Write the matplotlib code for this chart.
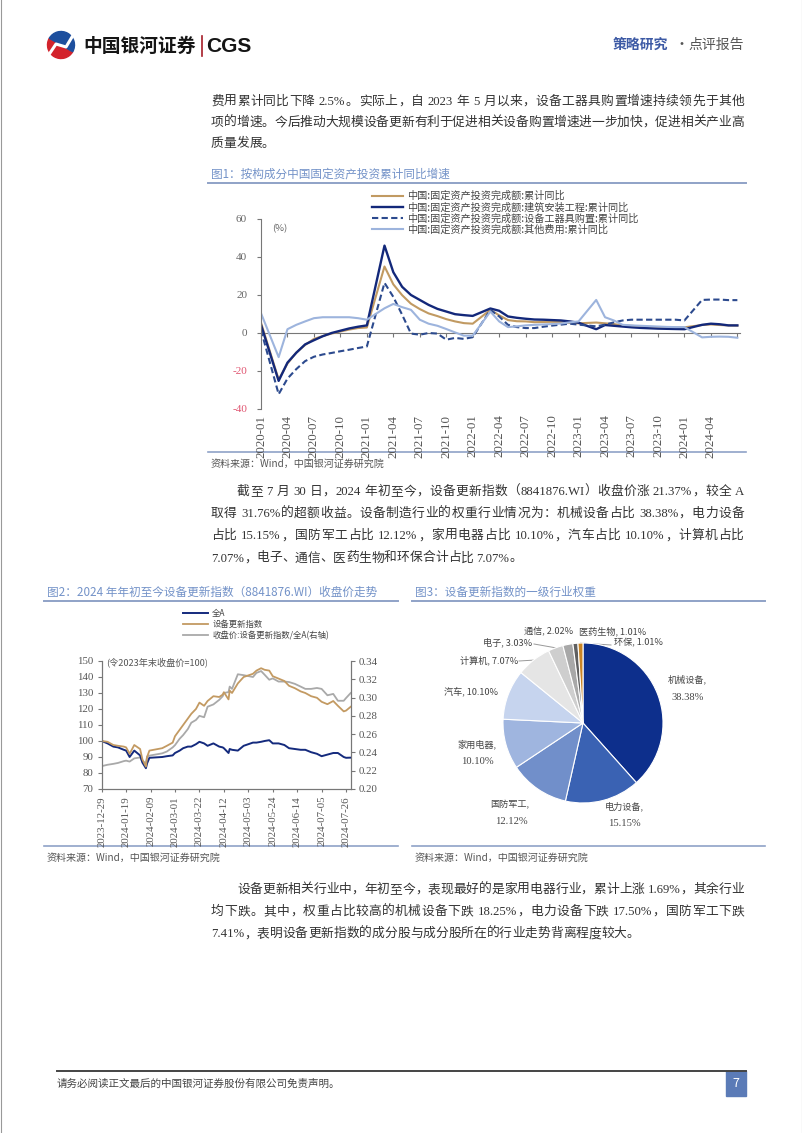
import re
import numpy as np
import pandas as pd
import matplotlib
matplotlib.use("Agg")
import matplotlib.pyplot as plt
from matplotlib.patches import Rectangle, Wedge

W, H = 802, 1133
CJK = ["Noto Sans CJK SC", "DejaVu Sans"]
SERIF = ["Liberation Serif", "Noto Sans CJK SC"]
plt.rcParams["font.family"] = CJK
plt.rcParams["axes.unicode_minus"] = False

TXT = "#333333"
TITLE = "#7392c8"
RULE = "#8fa2c7"
GRAY = "#777777"

# ---------------- 图1：按构成分固定资产投资累计同比 (%)
fai_months = (["2019-12"]
              + [f"{y}-{m:02d}" for y in (2020, 2021, 2022, 2023) for m in range(2, 13)]
              + [f"2024-{m:02d}" for m in range(2, 7)])
fai_total = [5.4,
             -24.5, -16.1, -10.3, -6.3, -3.1, -1.6, -0.3, 0.8, 1.8, 2.6, 2.9,
             35.0, 25.6, 19.9, 15.4, 12.6, 10.3, 8.9, 7.3, 6.1, 5.2, 4.9,
             12.2, 9.3, 6.8, 6.2, 6.1, 5.7, 5.8, 5.9, 5.8, 5.3, 5.1,
             5.5, 5.1, 4.7, 4.0, 3.8, 3.4, 3.2, 3.1, 2.9, 2.9, 3.0,
             4.2, 4.5, 4.2, 4.0, 3.9]
fai_build = [4.3,
             -25.2, -15.6, -10.4, -6.0, -3.8, -1.7, 0.0, 1.2, 2.4, 3.3, 4.0,
             46.0, 32.0, 24.3, 20.0, 17.4, 14.8, 12.7, 11.3, 9.9, 9.4, 9.0,
             12.9, 11.7, 8.7, 8.0, 7.5, 7.1, 7.0, 6.8, 6.6, 6.1, 5.4,
             2.0, 4.2, 3.8, 3.4, 3.0, 2.7, 2.5, 2.3, 2.2, 2.1, 2.0,
             4.3, 4.9, 4.6, 4.0, 4.0]
fai_equip = [1.5,
             -32.2, -24.0, -19.0, -14.8, -12.5, -11.3, -10.5, -9.6, -8.8, -7.9, -7.1,
             26.4, 19.0, 9.6, -0.3, -0.9, 0.0, -0.3, -3.5, -2.6, -3.1, -2.2,
             12.2, 8.7, 4.3, 3.1, 2.6, 2.6, 3.3, 3.9, 4.4, 4.9, 4.4,
             3.5, 4.4, 5.6, 6.6, 7.0, 7.0, 7.0, 7.0, 7.0, 7.0, 6.6,
             17.4, 17.6, 17.6, 17.3, 17.3]
fai_other = [10.4,
             -12.7, 2.0, 4.3, 6.1, 7.8, 8.3, 8.3, 8.3, 8.3, 7.8, 7.0,
             13.0, 15.3, 13.6, 12.2, 7.0, 4.9, 3.8, 2.1, 0.3, -1.4, -1.4,
             11.3, 6.1, 3.1, 3.5, 4.0, 4.3, 4.5, 4.7, 5.0, 5.6, 6.1,
             17.4, 8.3, 6.6, 4.3, 4.0, 3.8, 3.6, 3.4, 3.2, 3.1, 3.1,
             -2.3, -2.0, -1.9, -2.0, -2.5]
fai_labels = ["中国:固定资产投资完成额:累计同比",
              "中国:固定资产投资完成额:建筑安装工程:累计同比",
              "中国:固定资产投资完成额:设备工器具购置:累计同比",
              "中国:固定资产投资完成额:其他费用:累计同比"]
fig1_ticks = ["2020-01", "2020-04", "2020-07", "2020-10", "2021-01", "2021-04",
              "2021-07", "2021-10", "2022-01", "2022-04", "2022-07", "2022-10",
              "2023-01", "2023-04", "2023-07", "2023-10", "2024-01", "2024-04"]

# ---------------- 图2：设备更新指数收盘价走势
idx_dates = ["2023-12-29", "2024-01-03", "2024-01-08", "2024-01-12", "2024-01-17",
             "2024-01-19", "2024-01-22", "2024-01-26", "2024-01-31", "2024-02-02",
             "2024-02-05", "2024-02-06", "2024-02-08", "2024-02-19", "2024-02-23",
             "2024-02-28", "2024-03-01", "2024-03-05", "2024-03-08", "2024-03-12",
             "2024-03-15", "2024-03-19", "2024-03-22", "2024-03-26", "2024-03-29",
             "2024-04-03", "2024-04-08", "2024-04-11", "2024-04-12", "2024-04-16",
             "2024-04-17", "2024-04-19", "2024-04-24", "2024-04-29", "2024-05-07",
             "2024-05-10", "2024-05-14", "2024-05-17", "2024-05-21", "2024-05-24",
             "2024-05-29", "2024-06-03", "2024-06-07", "2024-06-12", "2024-06-17",
             "2024-06-21", "2024-06-26", "2024-07-01", "2024-07-05", "2024-07-10",
             "2024-07-15", "2024-07-19", "2024-07-24", "2024-07-26", "2024-07-30"]
quan_a = [100, 98.5, 96.5, 96.0, 94.5, 94.0, 90.0, 94.0, 91.0, 86.5,
          83.0, 86.0, 89.5, 90.0, 90.5, 91.0, 92.5, 94.0, 95.5, 96.5,
          96.5, 98.0, 99.5, 98.5, 97.0, 98.5, 96.5, 96.0, 95.5, 92.5,
          95.0, 94.5, 94.0, 97.0, 99.0, 99.0, 99.5, 100.0, 100.5, 98.5,
          98.5, 97.5, 95.5, 95.0, 94.5, 94.5, 93.0, 92.0, 90.5, 91.5,
          92.5, 92.5, 90.0, 89.5, 89.6]
equip_idx = [100, 99.5, 97.5, 97.0, 96.5, 96.0, 92.0, 97.5, 95.0, 88.5,
             84.0, 90.0, 94.0, 95.5, 97.0, 99.0, 103.0, 107.0, 110.0, 114.0,
             117.0, 120.0, 124.0, 122.0, 125.0, 128.0, 127.5, 129.0, 130.5, 126.0,
             131.5, 130.0, 136.0, 140.0, 142.0, 144.0, 145.5, 144.5, 144.0, 140.5,
             139.0, 137.5, 134.5, 133.0, 131.0, 130.0, 128.0, 127.0, 124.5, 123.0,
             125.0, 122.0, 118.5, 119.0, 121.4]
ratio = [0.225, 0.2265, 0.2275, 0.2285, 0.2305, 0.231, 0.230, 0.2335, 0.2345, 0.230,
         0.2285, 0.2355, 0.2365, 0.239, 0.241, 0.2455, 0.248, 0.255, 0.259, 0.2655,
         0.2725, 0.2755, 0.280, 0.2785, 0.290, 0.2925, 0.2975, 0.3015, 0.305, 0.306,
         0.312, 0.3095, 0.3255, 0.3245, 0.3225, 0.327, 0.329, 0.325, 0.3195, 0.321,
         0.3175, 0.3175, 0.317, 0.315, 0.312, 0.3095, 0.3095, 0.3105, 0.3095, 0.3025,
         0.304, 0.2965, 0.2965, 0.2995, 0.305]
fig2_labels = ["全A", "设备更新指数", "收盘价:设备更新指数/全A(右轴)"]
fig2_ticks = ["2023-12-29", "2024-01-19", "2024-02-09", "2024-03-01", "2024-03-22",
              "2024-04-12", "2024-05-03", "2024-05-24", "2024-06-14", "2024-07-05",
              "2024-07-26"]

# ---------------- 图3：一级行业权重 (%)
ind_names = ["机械设备", "电力设备", "国防军工", "家用电器", "汽车",
             "计算机", "电子", "通信", "医药生物", "环保"]
ind_weights = [38.38, 15.15, 12.12, 10.10, 10.10, 7.07, 3.03, 2.02, 1.01, 1.01]
ind_colors = ["#0d2f8c", "#3a62b3", "#718fca", "#9fb5df", "#c6d4ee",
              "#e5e5e5", "#cecece", "#a8a8a8", "#606060", "#c98526"]


def rect(x0, y0, x1, y1):
    return [x0 / W, 1 - y1 / H, (x1 - x0) / W, (y1 - y0) / H]


fig = plt.figure(figsize=(W / 100, H / 100), dpi=100)
page = fig.add_axes([0, 0, 1, 1])
page.set_xlim(0, W)
page.set_ylim(H, 0)
page.axis("off")
rend = fig.canvas.get_renderer()


def text_line(x0, y, s, size=9.2, x1=None, color=TXT):
    # 逐字排版，x1 给出时两端对齐
    toks = re.findall(r"[A-Za-z0-9.%]+| |[^A-Za-z0-9.% ]", s)
    base = y + size * 100 / 72 * 0.36
    items = []
    for t in toks:
        if t == " ":
            items.append((None, size * 100 / 72 * 0.25))
            continue
        fam = SERIF if t[0].isascii() else CJK
        tx = page.text(x0, base, t, fontsize=size, family=fam, color=color, va="baseline")
        items.append((tx, tx.get_window_extent(rend).width))
    gap = 0
    if x1 is not None:
        gap = (x1 - x0 - sum(w for _, w in items)) / (len(items) - 1)
    x = x0
    for tx, w in items:
        if tx is not None:
            tx.set_x(x)
        x += w + gap


def paragraph(lines, y0, indent=True, step=22.3):
    for i, s in enumerate(lines):
        x0 = 237 if (i == 0 and indent) else 211
        last = i == len(lines) - 1
        text_line(x0, y0 + i * step, s, x1=None if last else 744)


def fig_title(x0, x1, y, s):
    page.text(x0, y, s, fontsize=8.4, color=TITLE, va="center")
    page.plot([x0 - 3, x1], [y + 9, y + 9], color=RULE, lw=1.4)


def fig_source(x0, x1, y):
    page.plot([x0 - 3, x1], [y - 12, y - 12], color=RULE, lw=1.2)
    page.text(x0, y, "资料来源：Wind，中国银河证券研究院", fontsize=7.2, color="#555555",
              va="center", style="italic")


# ---------------- 页眉
page.plot([0.5, 0.5], [0, H], color="#999999", lw=0.8)
page.plot([W - 0.5, W - 0.5], [0, H], color="#999999", lw=0.8)
page.add_patch(Wedge((61, 45), 13.5, 30, 210, color="#d3232c"))
page.add_patch(Wedge((61, 45), 13.5, 210, 390, color="#1d4f9e"))
page.plot([50, 56, 66, 72], [53, 44, 47, 37], color="white", lw=2.2)
page.text(83, 46, "中国银河证券", fontsize=13.5, fontweight="bold", color="#151515", va="center")
page.plot([202, 202], [36, 56], color="#a51c28", lw=1.2)
page.text(206, 46, "CGS", fontsize=15, fontweight="bold", family="Liberation Sans",
          color="#151515", va="center")
page.text(613, 45, "策略研究", fontsize=10, fontweight="bold", color="#3d5aa5", va="center")
page.text(675, 45, "·", fontsize=10, color="#555555", va="center")
page.text(688, 45, "点评报告", fontsize=10, color="#555555", va="center")

# ---------------- 正文
paragraph(["费用累计同比下降 2.5%。实际上，自 2023 年 5 月以来，设备工器具购置增速持续领先于其他",
           "项的增速。今后推动大规模设备更新有利于促进相关设备购置增速进一步加快，促进相关产业高",
           "质量发展。"], 100, indent=False, step=21)
paragraph(["截至 7 月 30 日，2024 年初至今，设备更新指数（8841876.WI）收盘价涨 21.37%，较全 A",
           "取得 31.76%的超额收益。设备制造行业的权重行业情况为：机械设备占比 38.38%，电力设备",
           "占比 15.15%，国防军工占比 12.12%，家用电器占比 10.10%，汽车占比 10.10%，计算机占比",
           "7.07%，电子、通信、医药生物和环保合计占比 7.07%。"], 490)
paragraph(["设备更新相关行业中，年初至今，表现最好的是家用电器行业，累计上涨 1.69%，其余行业",
           "均下跌。其中，权重占比较高的机械设备下跌 18.25%，电力设备下跌 17.50%，国防军工下跌",
           "7.41%，表明设备更新指数的成分股与成分股所在的行业走势背离程度较大。"], 888)

# ---------------- 图1
fig_title(211, 746, 174, "图1：按构成分中国固定资产投资累计同比增速")
ax1 = fig.add_axes(rect(261, 219, 740, 409))
ax1.set_facecolor("none")
pos = [(int(m[:4]) - 2019) * 12 + int(m[5:]) - 12 for m in fai_months]
l1, = ax1.plot(pos, fai_total, color="#c19a62", lw=1.5)
l2, = ax1.plot(pos, fai_build, color="#13287a", lw=1.7)
l3, = ax1.plot(pos, fai_equip, color="#2c4a8e", lw=1.5, ls=(0, (3, 1.6)))
l4, = ax1.plot(pos, fai_other, color="#9db4dd", lw=1.5)
ax1.set_xlim(0, 54.3)
ax1.set_ylim(-40, 60)
for s in ("top", "right", "bottom"):
    ax1.spines[s].set_visible(False)
ax1.spines["left"].set_color(GRAY)
yt = list(range(-40, 61, 20))
ax1.set_yticks(yt, [str(v) for v in yt])
ax1.tick_params(axis="y", direction="out", length=3, color=GRAY, labelsize=8, pad=7)
for lab, v in zip(ax1.get_yticklabels(), yt):
    lab.set_fontfamily(SERIF)
    lab.set_color("#e05470" if v < 0 else "#666666")
ax1.set_xticks(range(0, 3 * len(fig1_ticks), 3), fig1_ticks)
ax1.tick_params(axis="x", length=0, labelsize=9.3, labelcolor="#555555", pad=4, labelrotation=90)
for lab in ax1.get_xticklabels():
    lab.set_fontfamily(SERIF)
sec = ax1.secondary_xaxis(0.4)
sec.set_xticks(range(0, 55, 3))
sec.tick_params(length=3, color=GRAY, labelbottom=False, labeltop=False)
sec.spines["bottom"].set_color(GRAY)
sec.spines["top"].set_color(GRAY)
page.text(272, 229, "(%)", fontsize=6.8, color="#666666", va="center")
fig.legend([l1, l2, l3, l4], fai_labels, loc="upper left",
           bbox_to_anchor=(372 / W, 1 - 191 / H), frameon=False, fontsize=7.3,
           handlelength=3.1, handletextpad=0.4, labelspacing=0.08, borderpad=0,
           borderaxespad=0, labelcolor="#444444")
fig_source(211, 746, 464)

# ---------------- 图2
fig_title(47, 398, 592, "图2：2024 年年初至今设备更新指数（8841876.WI）收盘价走势")
ax2 = fig.add_axes(rect(101.7, 661, 350.7, 789))
ax2r = ax2.twinx()
ax2.set_zorder(ax2r.get_zorder() + 1)
ax2.set_facecolor("none")
d = pd.to_datetime(idx_dates)
m3, = ax2r.plot(d, ratio, color="#a9a9a9", lw=1.3)
m1, = ax2.plot(d, quan_a, color="#142a7d", lw=1.4)
m2, = ax2.plot(d, equip_idx, color="#c39a62", lw=1.3)
ax2.set_xlim(pd.Timestamp("2023-12-29"), pd.Timestamp("2024-07-30"))
ax2.set_ylim(70, 150)
ax2r.set_ylim(0.20, 0.34)
ax2.set_yticks(range(70, 151, 10))
rt = [0.20, 0.22, 0.24, 0.26, 0.28, 0.30, 0.32, 0.34]
ax2r.set_yticks(rt, [f"{v:.2f}" for v in rt])
ax2.set_xticks(pd.to_datetime(fig2_ticks), fig2_ticks)
for a in (ax2, ax2r):
    a.spines["top"].set_visible(False)
    for s in ("left", "right", "bottom"):
        a.spines[s].set_color(GRAY)
ax2.tick_params(axis="y", direction="out", length=3, color=GRAY, labelsize=7.8,
                labelcolor="#555555", pad=3)
ax2r.tick_params(axis="y", direction="out", length=3, color=GRAY, labelsize=7.8,
                 labelcolor="#555555", pad=3)
ax2.tick_params(axis="x", direction="out", length=2, color=GRAY, labelsize=7.8,
                labelcolor="#555555", labelrotation=90, pad=3)
for lab in ax2.get_xticklabels() + ax2.get_yticklabels() + ax2r.get_yticklabels():
    lab.set_fontfamily(SERIF)
page.text(106, 662, "(令2023年末收盘价=100)", fontsize=6.6, color="#555555", va="center")
fig.legend([m1, m2, m3], fig2_labels, loc="upper left",
           bbox_to_anchor=(183 / W, 1 - 609 / H), frameon=False, fontsize=6,
           handlelength=3.0, handletextpad=0.5, labelspacing=0.22, borderpad=0,
           borderaxespad=0, labelcolor="#444444")
fig_source(47, 398, 858)

# ---------------- 图3
fig_title(415, 765, 592, "图3：设备更新指数的一级行业权重")
cx, cy, r = 583, 723, 80
ax3 = fig.add_axes(rect(cx - r, cy - r, cx + r, cy + r))
ax3.pie(ind_weights, colors=ind_colors, startangle=90, counterclock=False,
        wedgeprops=dict(edgecolor="white", linewidth=0.8))
ax3.set_xlim(-1, 1)
ax3.set_ylim(-1, 1)

# 标签位置（页面像素）
label_pos = {
    "机械设备": [(687, 679), (688, 697)],
    "电力设备": [(624, 806), (624, 823)],
    "国防军工": [(510, 805), (511, 822)],
    "家用电器": [(477, 744), (477, 762)],
    "汽车": [(471, 691)],
    "计算机": [(489, 660)],
    "电子": [(508, 642)],
    "通信": [(549, 632)],
    "医药生物": [(613, 631)],
    "环保": [(638, 643)],
}
for name, w in zip(ind_names, ind_weights):
    p = label_pos[name]
    if len(p) == 2:
        page.text(*p[0], f"{name},", fontsize=6.6, color="#444444", ha="center", va="center")
        page.text(*p[1], f"{w:.2f}%", fontsize=7.6, color="#444444", ha="center", va="center",
                  family=SERIF)
    else:
        page.text(*p[0], f"{name}, {w:.2f}%", fontsize=6.6, color="#444444", ha="center",
                  va="center")

cum = np.cumsum([0] + ind_weights)
leaders = {"计算机": (519, 661), "电子": (534, 644), "环保": (611, 645)}
for i, name in enumerate(ind_names):
    if name in leaders:
        mid = np.deg2rad(90 - 360 * (cum[i] + cum[i + 1]) / 2 / cum[-1])
        px, py = cx + r * np.cos(mid), cy - r * np.sin(mid)
        lx, ly = leaders[name]
        page.plot([lx, px], [ly, py], color="#999999", lw=0.7)
fig_source(415, 765, 858)

# ---------------- 页脚
page.plot([57, 746], [1071, 1071], color="#444444", lw=1.4)
page.text(57, 1084, "请务必阅读正文最后的中国银河证券股份有限公司免责声明。", fontsize=7.6,
          color="#444444", va="center")
page.add_patch(Rectangle((726, 1071), 20, 25, color="#5b7bb7"))
page.text(736, 1083.5, "7", fontsize=9, color="white", ha="center", va="center")

fig.savefig("out.png", dpi=100)
